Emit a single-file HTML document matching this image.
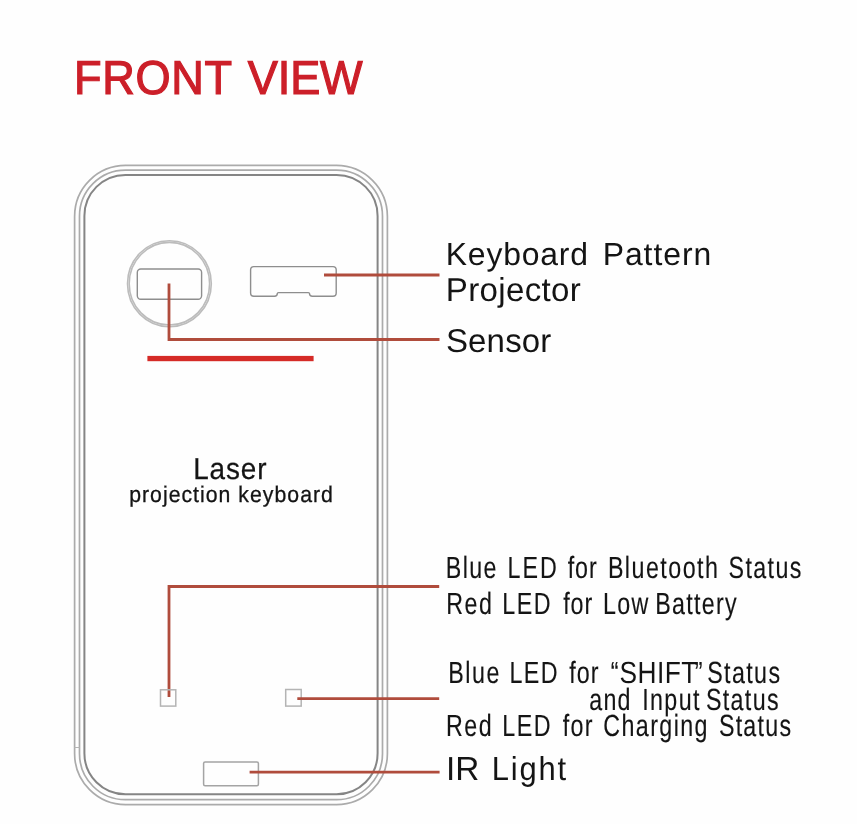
<!DOCTYPE html>
<html><head><meta charset="utf-8"><title>Front View</title>
<style>
html,body{margin:0;padding:0;background:#fff;}
body{width:857px;height:824px;overflow:hidden;position:relative;}
svg{position:absolute;left:0;top:0;display:block;will-change:transform;}
text{font-family:"Liberation Sans",sans-serif;text-rendering:geometricPrecision;}
</style></head><body>
<svg width="857" height="824" viewBox="0 0 857 824">
<rect width="857" height="824" fill="#fefefe"/>
<rect x="74.6" y="165.4" width="312.8" height="639.2" rx="51" ry="51" fill="none" stroke="#ababab" stroke-width="1.7"/>
<rect x="79.5" y="170.2" width="303" height="629.5" rx="46" ry="46" fill="none" stroke="#ababab" stroke-width="1.7"/>
<rect x="84.4" y="174.9" width="293.2" height="619.4" rx="41" ry="41" fill="none" stroke="#858585" stroke-width="2"/>
<line x1="74.6" y1="747.5" x2="79.5" y2="747.5" stroke="#b4b4b4" stroke-width="1"/>
<ellipse cx="169.4" cy="283.7" rx="41.9" ry="43" fill="none" stroke="#bcbcbc" stroke-width="1.6"/>
<ellipse cx="169.4" cy="283.7" rx="40.2" ry="41.3" fill="none" stroke="#bcbcbc" stroke-width="1.6"/>
<rect x="137.3" y="269" width="64.3" height="30.2" rx="3.5" fill="none" stroke="#8e8e8e" stroke-width="1.4"/>
<path d="M253.8 266.6 H333 Q336.2 266.6 336.2 269.8 V293 Q336.2 296.2 333 296.2 H312.3 Q309.5 296.2 309.5 293.5 Q309.5 292.6 308.3 292.6 H278.5 Q277.3 292.6 277.3 293.5 Q277.3 296.2 274.5 296.2 H253.8 Q250.6 296.2 250.6 293 V269.8 Q250.6 266.6 253.8 266.6 Z" fill="none" stroke="#8e8e8e" stroke-width="1.4"/>
<rect x="147.4" y="355.9" width="166.2" height="5.3" fill="#d52b27"/>
<polyline points="169,283.4 169,339.5 439.5,339.5" fill="none" stroke="#b04c3c" stroke-width="2.8"/>
<line x1="324" y1="275" x2="439.5" y2="275" stroke="#b04c3c" stroke-width="2.8"/>
<polyline points="169,697 169,586.5 439.2,586.5" fill="none" stroke="#b04c3c" stroke-width="2.8"/>
<rect x="160.5" y="689.8" width="15.3" height="16.3" fill="none" stroke="#b4b4b4" stroke-width="1.5"/>
<rect x="285.7" y="689.5" width="15.5" height="16.6" fill="none" stroke="#b4b4b4" stroke-width="1.5"/>
<line x1="297.3" y1="698.6" x2="439.2" y2="698.6" stroke="#b04c3c" stroke-width="2.8"/>
<rect x="203.6" y="761.9" width="54.8" height="23.9" rx="1.5" fill="none" stroke="#a4a4a4" stroke-width="1.5"/>
<line x1="249.6" y1="772.2" x2="439.6" y2="772.2" stroke="#b04c3c" stroke-width="2.8"/>
<text transform="translate(74.09 94.20) scale(0.95 1)" font-size="47.5" letter-spacing="0.667" fill="#cc1f29" stroke="#cc1f29" stroke-width="1.2">FRONT</text>
<text transform="translate(247.81 94.20) scale(0.95 1)" font-size="47.5" letter-spacing="-0.163" fill="#cc1f29" stroke="#cc1f29" stroke-width="1.2">VIEW</text>
<text transform="translate(445.74 265.20) scale(1.0 1)" font-size="31.9" letter-spacing="0.824" fill="#141414">Keyboard</text>
<text transform="translate(602.74 265.20) scale(1.0 1)" font-size="31.9" letter-spacing="0.938" fill="#141414">Pattern</text>
<text transform="translate(445.83 300.80) scale(1.0 1)" font-size="33.1" letter-spacing="0.317" fill="#141414">Projector</text>
<text transform="translate(445.92 352.40) scale(1.0 1)" font-size="33" letter-spacing="0.165" fill="#141414">Sensor</text>
<text transform="translate(193.22 478.70) scale(0.92 1)" font-size="30.3" letter-spacing="0.980" fill="#141414" stroke="#141414" stroke-width="0.25">Laser</text>
<text transform="translate(129.16 502.20) scale(0.94 1)" font-size="22.6" letter-spacing="1.085" fill="#141414" stroke="#141414" stroke-width="0.3">projection keyboard</text>
<text transform="translate(445.74 577.80) scale(0.76 1)" font-size="30.6" letter-spacing="1.866" fill="#141414" stroke="#141414" stroke-width="0.15">Blue</text>
<text transform="translate(507.54 577.80) scale(0.76 1)" font-size="30.6" letter-spacing="2.570" fill="#141414" stroke="#141414" stroke-width="0.15">LED</text>
<text transform="translate(567.72 577.80) scale(0.76 1)" font-size="30.6" letter-spacing="1.180" fill="#141414" stroke="#141414" stroke-width="0.15">for</text>
<text transform="translate(607.89 577.80) scale(0.76 1)" font-size="30.6" letter-spacing="1.936" fill="#141414" stroke="#141414" stroke-width="0.15">Bluetooth</text>
<text transform="translate(728.54 577.80) scale(0.76 1)" font-size="30.6" letter-spacing="1.804" fill="#141414" stroke="#141414" stroke-width="0.15">Status</text>
<text transform="translate(446.23 613.60) scale(0.76 1)" font-size="30.6" letter-spacing="1.980" fill="#141414" stroke="#141414" stroke-width="0.15">Red</text>
<text transform="translate(502.23 613.60) scale(0.76 1)" font-size="30.6" letter-spacing="2.043" fill="#141414" stroke="#141414" stroke-width="0.15">LED</text>
<text transform="translate(563.13 613.60) scale(0.76 1)" font-size="30.6" letter-spacing="1.242" fill="#141414" stroke="#141414" stroke-width="0.15">for</text>
<text transform="translate(602.95 613.60) scale(0.76 1)" font-size="30.6" letter-spacing="1.816" fill="#141414" stroke="#141414" stroke-width="0.15">Low</text>
<text transform="translate(655.23 613.60) scale(0.76 1)" font-size="30.6" letter-spacing="1.676" fill="#141414" stroke="#141414" stroke-width="0.15">Battery</text>
<text transform="translate(448.23 683.00) scale(0.76 1)" font-size="30.6" letter-spacing="2.011" fill="#141414" stroke="#141414" stroke-width="0.15">Blue</text>
<text transform="translate(509.53 683.00) scale(0.76 1)" font-size="30.6" letter-spacing="1.849" fill="#141414" stroke="#141414" stroke-width="0.15">LED</text>
<text transform="translate(569.33 683.00) scale(0.76 1)" font-size="30.6" letter-spacing="1.289" fill="#141414" stroke="#141414" stroke-width="0.15">for</text>
<text transform="translate(610.87 683.00) scale(0.76 1)" font-size="30.6" letter-spacing="0.000" fill="#141414" stroke="#141414" stroke-width="0.15">“</text>
<text transform="translate(619.39 683.00) scale(0.86 1)" font-size="30.6" letter-spacing="0.552" fill="#141414">SHIFT</text>
<text transform="translate(694.73 683.00) scale(0.76 1)" font-size="30.6" letter-spacing="0.000" fill="#141414" stroke="#141414" stroke-width="0.15">”</text>
<text transform="translate(707.17 683.00) scale(0.76 1)" font-size="30.6" letter-spacing="1.820" fill="#141414" stroke="#141414" stroke-width="0.15">Status</text>
<text transform="translate(589.26 710.00) scale(0.76 1)" font-size="30.6" letter-spacing="1.562" fill="#141414" stroke="#141414" stroke-width="0.15">and</text>
<text transform="translate(642.16 710.00) scale(0.76 1)" font-size="30.6" letter-spacing="1.845" fill="#141414" stroke="#141414" stroke-width="0.15">Input</text>
<text transform="translate(705.94 710.00) scale(0.76 1)" font-size="30.6" letter-spacing="1.758" fill="#141414" stroke="#141414" stroke-width="0.15">Status</text>
<text transform="translate(445.89 736.40) scale(0.76 1)" font-size="30.6" letter-spacing="2.005" fill="#141414" stroke="#141414" stroke-width="0.15">Red</text>
<text transform="translate(502.33 736.40) scale(0.76 1)" font-size="30.6" letter-spacing="1.914" fill="#141414" stroke="#141414" stroke-width="0.15">LED</text>
<text transform="translate(562.72 736.40) scale(0.76 1)" font-size="30.6" letter-spacing="1.706" fill="#141414" stroke="#141414" stroke-width="0.15">for</text>
<text transform="translate(603.25 736.40) scale(0.76 1)" font-size="30.6" letter-spacing="1.859" fill="#141414" stroke="#141414" stroke-width="0.15">Charging</text>
<text transform="translate(718.94 736.40) scale(0.76 1)" font-size="30.6" letter-spacing="1.621" fill="#141414" stroke="#141414" stroke-width="0.15">Status</text>
<text transform="translate(445.89 780.20) scale(1.0 1)" font-size="33.3" letter-spacing="0.141" fill="#141414">IR</text>
<text transform="translate(491.78 780.20) scale(0.93 1)" font-size="33.3" letter-spacing="1.936" fill="#141414">Light</text>
</svg>
</body></html>
